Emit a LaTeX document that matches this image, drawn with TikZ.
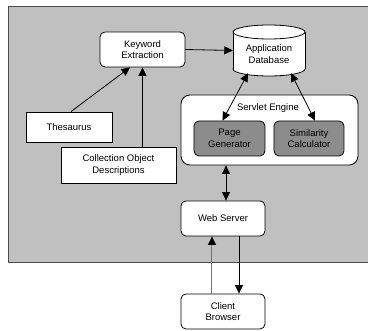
\documentclass[tikz,border=0pt]{standalone}
\usepackage{fontspec}
\setmainfont{Liberation Sans}
\usetikzlibrary{arrows.meta}
\definecolor{bggray}{HTML}{C0C0C0}
\definecolor{boxgray}{HTML}{8C8C8C}
\begin{document}
\begin{tikzpicture}[x=1pt,y=-1pt,
  every node/.style={font=\fontsize{9.5}{11.5}\selectfont, align=center, inner sep=0pt},
  rbox/.style={draw, fill=white, rounded corners=5pt, line width=0.8pt},
  sbox/.style={draw, fill=white, line width=0.8pt},
  dbox/.style={draw, fill=boxgray, rounded corners=5pt, line width=0.8pt},
  arr/.style={line width=0.8pt, -{Triangle[length=8.5pt,width=8pt]}},
  darr/.style={line width=0.8pt, {Triangle[length=8.5pt,width=8pt]}-{Triangle[length=8.5pt,width=8pt]}}]
\useasboundingbox (0,0) rectangle (368,331);
\draw[fill=bggray, draw=black!70, line width=0.8pt] (8,6) rectangle (372,262);
% nodes
\node[rbox, minimum width=85pt, minimum height=35pt] (kw) at (142.5,49.5) {Keyword\\Extraction};
% database cylinder
\fill[white] (233,32) rectangle (305,69);
\draw[fill=white, line width=0.8pt] (269,69) ellipse (36pt and 7pt);
\fill[white] (233,32) rectangle (305,69);
\draw[line width=0.8pt] (233,32) -- (233,69) (305,32) -- (305,69);
\draw[fill=white, line width=0.8pt] (269,32) ellipse (36pt and 7pt);
\node[minimum width=72pt, minimum height=51pt] (db) at (269,50.5) {};
\node at (269,54) {Application\\Database};
\node[rbox, minimum width=177pt, minimum height=70pt, rounded corners=9pt] (se) at (269.5,130) {};
\node (setxt) at (268,108) {Servlet Engine};
\node[dbox, minimum width=71pt, minimum height=35pt] (pg) at (229.5,138.5) {Page\\Generator};
\node[dbox, minimum width=70pt, minimum height=35pt] (sim) at (309,138.5) {Similarity\\Calculator};
\node[sbox, minimum width=86pt, minimum height=30pt] (th) at (69,127) {Thesaurus};
\node[sbox, minimum width=115pt, minimum height=36pt] (col) at (118.5,165) {Collection Object\\Descriptions};
\node[rbox, minimum width=84pt, minimum height=35pt] (ws) at (223,218.5) {Web Server};
\node[rbox, minimum width=84pt, minimum height=35pt] (cb) at (223,311.5) {Client\\Browser};
% connectors
\draw[arr] (kw.east) -- (db.west);
\draw[arr] ([xshift=2pt]th.north) -- ([xshift=-12.5pt]kw.south);
\draw[arr] (kw.south |- col.north) -- (kw.south);
\draw[darr] ([xshift=-21pt,yshift=3pt]db.south) -- ([xshift=-7pt]pg.north);
\draw[darr] ([xshift=22pt,yshift=3pt]db.south) -- ([xshift=6pt]sim.north);
\draw[darr] ([xshift=3pt]ws.north |- se.south) -- ([xshift=3pt]ws.north);
\draw[line width=1pt, draw=black!55, -{Triangle[length=8.5pt,width=8pt,black]}] ([xshift=-11pt]cb.north) -- ([xshift=-11pt]ws.south);
\draw[arr] ([xshift=16pt]ws.south) -- ([xshift=16pt]cb.north);
\end{tikzpicture}
\end{document}
